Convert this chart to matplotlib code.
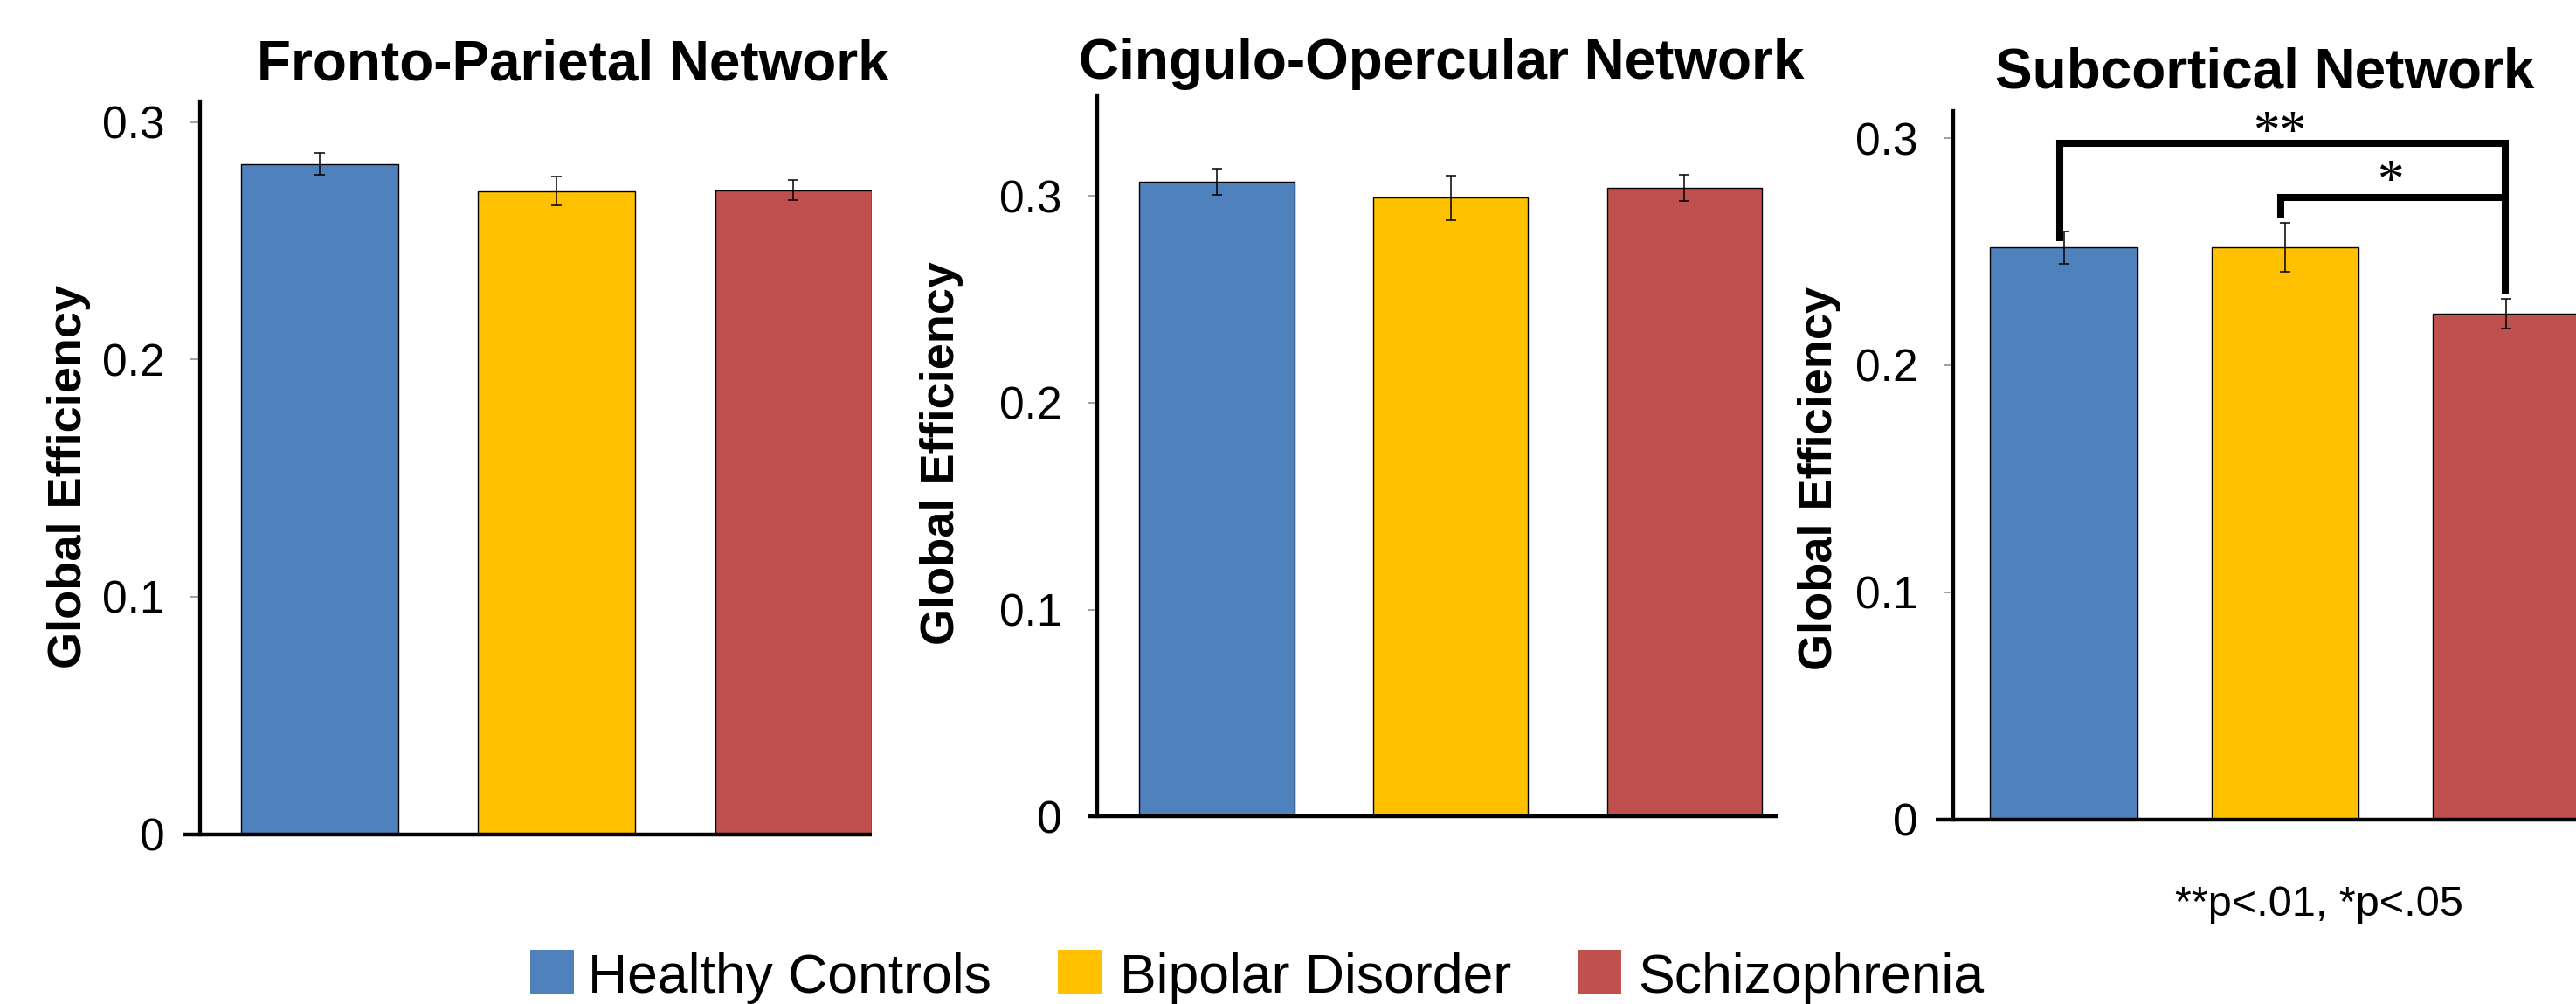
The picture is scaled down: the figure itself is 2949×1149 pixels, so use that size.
import matplotlib
matplotlib.use("Agg")
import matplotlib.pyplot as plt
from matplotlib.patches import Rectangle

# ---------------- data ----------------
groups = ["Healthy Controls", "Bipolar Disorder", "Schizophrenia"]
colors = ["#4F81BD", "#FFC000", "#C0504D"]

titles = ["Fronto-Parietal Network", "Cingulo-Opercular Network", "Subcortical Network"]

fp_values = [0.2824, 0.2710, 0.2714]
fp_errors = [0.0045, 0.0061, 0.0042]

co_values = [0.3069, 0.2991, 0.3038]
co_errors = [0.0065, 0.0108, 0.0064]

sc_values = [0.2519, 0.2520, 0.2226]
sc_errors = [0.0071, 0.0108, 0.0065]

ytick_values = [0, 0.1, 0.2, 0.3]
ytick_labels = ["0", "0.1", "0.2", "0.3"]
ylabel_text = "Global Efficiency"

# significance brackets in the subcortical panel: (left group, right group, height, left foot, right foot, label)
brackets = [
    (0, 2, 0.2978, 0.2547, 0.2311, "**"),
    (1, 2, 0.2740, 0.2646, 0.2740, "*"),
]
footnote = "**p<.01, *p<.05"

# ---------------- figure ----------------
W, H = 2949, 1149
DPI = 100
fig = plt.figure(figsize=(W / DPI, H / DPI), dpi=DPI)
fig.patch.set_facecolor("white")

SANS = ["Liberation Sans", "Arial", "DejaVu Sans"]


def px_rect(left, right, top, bottom):
    return [left / W, 1 - bottom / H, (right - left) / W, (bottom - top) / H]


panels = [
    dict(values=fp_values, errors=fp_errors, rect=px_rect(229, 998.2, 116, 954.5),
         xlim=(-0.505, 2.331), ytop=0.3088, ext=19, width=0.6625,
         title_xy=(656, 91), ylab_xy=(93.3, 545)),
    dict(values=co_values, errors=co_errors, rect=px_rect(1256, 2035, 109.7, 934.4),
         xlim=(-0.512, 2.398), ytop=0.3484, ext=10, width=0.662,
         title_xy=(1650.5, 90), ylab_xy=(1091.7, 518)),
    dict(values=sc_values, errors=sc_errors, rect=px_rect(2235.5, 2949, 126.8, 937.5),
         xlim=(-0.5016, 2.3137), ytop=0.3121, ext=20, width=0.665,
         title_xy=(2593, 100.4), ylab_xy=(2097, 547.5)),
]

axes = []
for i, p in enumerate(panels):
    ax = fig.add_axes(p["rect"])
    axes.append(ax)
    x = list(range(len(groups)))
    ax.bar(x, p["values"], width=p["width"], color=colors, edgecolor="black",
           linewidth=1.0, zorder=2)
    ax.errorbar(x, p["values"], yerr=p["errors"], fmt="none", ecolor="black",
                elinewidth=1.1, capsize=4.3, capthick=1.1, zorder=3)
    ax.set_xlim(*p["xlim"])
    ax.set_ylim(0, p["ytop"])
    ax.set_yticks(ytick_values)
    ax.set_yticklabels(ytick_labels, fontsize=37, family=SANS)
    ax.tick_params(axis="y", direction="out", length=8, width=1.1, color="#868686", pad=21)
    ax.set_xticks([])
    for s in ["top", "right", "bottom"]:
        ax.spines[s].set_visible(False)
    ax.spines["left"].set_linewidth(3.1)
    ax.spines["left"].set_color("black")
    ax.spines["left"].set_zorder(4)
    # x axis line (extends slightly left of the y axis); x in axes coords, y in data
    width_px = p["rect"][2] * W
    ax.plot([-p["ext"] / width_px, 1], [0, 0], transform=ax.get_yaxis_transform(),
            color="black", lw=3.2, solid_capstyle="butt", clip_on=False, zorder=4)
    ax.patch.set_alpha(0)

    tx, ty = p["title_xy"]
    fig.text(tx / W, 1 - ty / H, titles[i], ha="center", va="baseline",
             fontsize=46, fontweight="bold", family=SANS)
    lx, ly = p["ylab_xy"]
    fig.text(lx / W, 1 - ly / H, ylabel_text, rotation=90, rotation_mode="anchor",
             ha="center", va="baseline", fontsize=39, fontweight="bold", family=SANS)

# significance brackets
ax3 = axes[2]
for (g1, g2, yh, yl, yr, lab) in brackets:
    x1 = g1 - 0.02
    x2 = g2 - 0.006
    ax3.plot([x1, x1, x2, x2], [yl, yh, yh, yr], color="black", lw=5.8,
             solid_joinstyle="miter", solid_capstyle="butt", clip_on=False, zorder=5)

SERIF = ["Liberation Serif", "DejaVu Serif"]
ax3.text(0.975, 0.2963, brackets[0][5], ha="center", va="baseline",
         fontsize=44, family=SERIF, zorder=6)
ax3.text(1.474, 0.2747, brackets[1][5], ha="center", va="baseline",
         fontsize=44, family=SERIF, zorder=6)

fig.text(2490 / W, 1 - 1047.7 / H, footnote, ha="left", va="baseline",
         fontsize=35, family=SANS)

# legend (drawn manually)
legend_base = 1136
legend_patch_x = [606.7, 1211, 1806.3]
legend_text_x = [673, 1281.5, 1875]
for cx, tx, c, g in zip(legend_patch_x, legend_text_x, colors, groups):
    fig.add_artist(Rectangle((cx / W, 1 - (legend_base + 0.5) / H), 50 / W, 50 / H,
                             transform=fig.transFigure, facecolor=c, edgecolor="none"))
    fig.text(tx / W, 1 - legend_base / H, g, ha="left", va="baseline", fontsize=45, family=SANS)

fig.savefig("out.png", dpi=DPI)
